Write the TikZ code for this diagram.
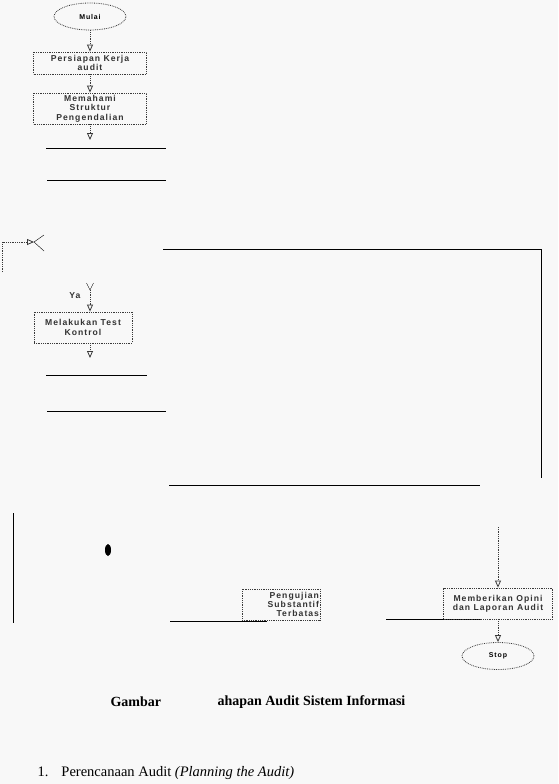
\documentclass[tikz,border=0pt]{standalone}
\usepackage{fontspec}
\setmainfont{Liberation Serif}
\newfontfamily\flowfont[LetterSpace=12]{Liberation Sans}
\usetikzlibrary{arrows.meta, positioning, shapes.geometric}
\definecolor{paper}{HTML}{F8F8F8}
\definecolor{inkgray}{HTML}{3A3A3A}
\tikzset{
  blkterm/.style = {draw=inkgray, densely dotted, thick, ellipse,
                    minimum width=72pt, minimum height=27pt,
                    font=\flowfont\bfseries\fontsize{7}{8}\selectfont, inner sep=0pt},
  blkproc/.style = {draw=inkgray, densely dotted, thick, rectangle,
                    font=\flowfont\bfseries\fontsize{8.6}{9.4}\selectfont,
                    align=center, inner sep=1pt, text=black!80},
  flow/.style    = {-{Triangle[open,length=7pt,width=6pt]}, draw=inkgray, densely dotted, thick},
  rule/.style    = {line width=0.9pt},
}
\begin{document}
\begin{tikzpicture}[x=1pt, y=-1pt]
    \fill[paper] (0,0) rectangle (558,784);
    \useasboundingbox (0,0) rectangle (558,784);

    % upper column
    \node[blkterm]                                        (mulai)     at (90,16.5)  {Mulai};
    \node[blkproc, minimum width=113pt, minimum height=22pt] (persiapan) at (90,63)    {Persiapan Kerja\\audit};
    \node[blkproc, minimum width=113pt, minimum height=31pt] (memahami)  at (90,108.5) {Memahami\\Struktur\\Pengendalian};
    \coordinate (c1) at (90,140);

    \draw[flow] (mulai) -- (persiapan);
    \draw[flow] (persiapan) -- (memahami);
    \draw[flow] (memahami) -- (c1);

    \draw[rule] (46,148) -- (166,148);
    \draw[rule] (47,180) -- (166,180);

    % loop back fork
    \coordinate (lp) at (2,272);
    \coordinate (fk) at (34,242);
    \draw[flow] (lp) |- (fk);
    \draw (fk) -- (44,235);
    \draw (fk) -- (44,251);

    \draw[rule] (163,249) -| (541,478);

    % test kontrol
    \node[font=\flowfont\bfseries\fontsize{8.6}{10}\selectfont, text=black!80] (ya) at (75,296) {Ya};
    \coordinate (yf) at (90,290);
    \draw (86.5,283) -- (yf) -- (93.5,283);
    \node[blkproc, minimum width=98pt, minimum height=31pt] (test) at (83,327.5) {Melakukan Test\\Kontrol};
    \draw[flow] (yf) -- (yf |- test.north);
    \coordinate (c2) at (90,358);
    \draw[flow] (test.south -| c2) -- (c2);

    \draw[rule] (46,375) -- (147,375);
    \draw[rule] (47,411) -- (166,411);
    \draw[rule] (169,485) -- (480,485);

    % lower part
    \draw[rule] (13,513) -- (13,623);
    \fill (108,550) ellipse (3pt and 6pt);

    \node[blkproc, minimum width=78pt, minimum height=31pt, text width=76pt, align=right] (uji) at (281,604.5) {Pengujian\\Substantif\\Terbatas};
    \draw[rule] (170,621) -- (267,621);
    \draw[rule] (386,619) -- (480,619);

    \node[blkproc, minimum width=109pt, minimum height=31pt] (opini) at (498,603.5) {Memberikan Opini\\dan Laporan Audit};
    \coordinate (c3) at (498,527);
    \draw[flow] (c3) -- (opini);
    \node[blkterm] (stop) at (498,656) {Stop};
    \draw[flow] (opini) -- (stop);

    % caption and text
    \node[anchor=west, font=\bfseries\fontsize{14}{16}\selectfont] (gambar) at (107,702) {Gambar};
    \node[anchor=west, font=\bfseries\fontsize{14}{16}\selectfont] (judul)  at (214,702) {ahapan Audit Sistem Informasi};
    \node[anchor=west, font=\fontsize{14.5}{16}\selectfont] (item1) at (34,773) {1.\hspace{0.9em}Perencanaan Audit \textit{(Planning the Audit)}};
\end{tikzpicture}
\end{document}
